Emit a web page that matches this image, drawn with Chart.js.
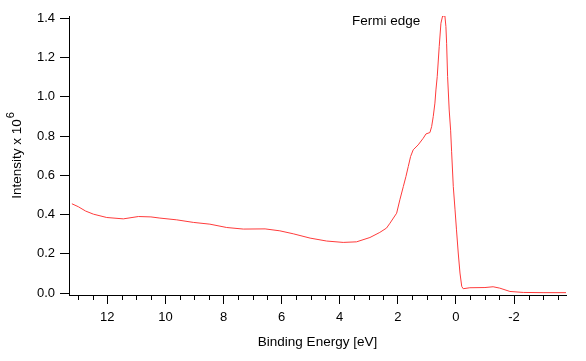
<!DOCTYPE html>
<html>
<head>
<meta charset="utf-8">
<script src="https://cdn.jsdelivr.net/npm/chart.js@4/dist/chart.umd.min.js"></script>
<style>
  html, body { margin: 0; padding: 0; background: #fff; }
  #wrap { width: 586px; height: 361px; position: relative; }
</style>
</head>
<body>
<div id="wrap"><canvas id="c" width="586" height="361"></canvas></div>
<script>
// Binding energy (eV) and intensity (x 10^6)
const energy = [13.22, 13.0, 12.75, 12.48, 12.02, 11.45, 10.93, 10.5, 10.19, 9.61, 9.04, 8.47, 7.89, 7.32, 6.57, 6.06, 5.6, 5.02, 4.45, 3.88, 3.42, 2.96, 2.62, 2.39, 2.27, 2.04, 1.93, 1.81, 1.72, 1.64, 1.56, 1.47, 1.30, 1.125, 1.03, 0.895, 0.836, 0.781, 0.723, 0.688, 0.643, 0.575, 0.516, 0.458, 0.379, 0.344, 0.32, 0.286, 0.231, 0.182, 0.148, 0.09, 0.03, -0.02, -0.08, -0.14, -0.20, -0.25, -0.48, -1.0, -1.28, -1.51, -1.86, -2.32, -3.0, -3.79];
const intensity = [0.455, 0.44, 0.418, 0.402, 0.385, 0.378, 0.39, 0.388, 0.382, 0.373, 0.36, 0.351, 0.334, 0.326, 0.327, 0.317, 0.302, 0.28, 0.265, 0.258, 0.261, 0.283, 0.309, 0.331, 0.356, 0.407, 0.475, 0.543, 0.594, 0.645, 0.696, 0.73, 0.755, 0.789, 0.811, 0.818, 0.848, 0.899, 0.968, 1.035, 1.103, 1.256, 1.375, 1.412, 1.412, 1.358, 1.273, 1.103, 0.933, 0.83, 0.72, 0.543, 0.424, 0.322, 0.204, 0.102, 0.034, 0.022, 0.027, 0.028, 0.032, 0.025, 0.008, 0.003, 0.002, 0.002];
const xMajorTicks = [12, 10, 8, 6, 4, 2, 0, -2];
const xMinorTicks = [13, 12.5, 11.5, 11, 10.5, 9.5, 9, 8.5, 7.5, 7, 6.5, 5.5, 5, 4.5, 3.5, 3, 2.5, 1.5, 1, 0.5, -0.5, -1, -1.5, -2.5, -3, -3.5];
const yTicks = [0, 0.2, 0.4, 0.6, 0.8, 1.0, 1.2, 1.4];
const annotationText = 'Fermi edge';
const annotationPos = [2.4, 1.385];
const yTitleMain = 'Intensity x 10';
const yTitleSup = '6';

const FONT = "'Liberation Sans', Arial, Helvetica, sans-serif";

const extrasPlugin = {
  id: 'extras',
  afterDraw(chart) {
    const xs = chart.scales.x;
    const ys = chart.scales.y;
    const ctx = chart.ctx;
    ctx.save();
    // minor x ticks
    ctx.strokeStyle = '#000';
    ctx.lineWidth = 1;
    ctx.beginPath();
    xMinorTicks.forEach(v => {
      const px = Math.round(xs.getPixelForValue(v)) + 0.5;
      ctx.moveTo(px, xs.top);
      ctx.lineTo(px, xs.top + 5);
    });
    ctx.stroke();
    // annotation
    ctx.fillStyle = '#000';
    ctx.font = "13.5px " + FONT;
    ctx.textAlign = 'center';
    ctx.textBaseline = 'middle';
    ctx.fillText(annotationText, xs.getPixelForValue(annotationPos[0]), ys.getPixelForValue(annotationPos[1]));
    // y-axis title with superscript
    const mainFont = "13.5px " + FONT;
    const supFont = "11px " + FONT;
    ctx.font = mainFont;
    const wMain = ctx.measureText(yTitleMain).width;
    ctx.font = supFont;
    const wSup = ctx.measureText(yTitleSup).width;
    const total = wMain + wSup + 1;
    const cy = (chart.chartArea.top + chart.chartArea.bottom) / 2;
    ctx.translate(17, cy);
    ctx.rotate(-Math.PI / 2);
    ctx.textAlign = 'left';
    ctx.textBaseline = 'middle';
    ctx.font = mainFont;
    ctx.fillText(yTitleMain, -total / 2, 0);
    ctx.font = supFont;
    ctx.fillText(yTitleSup, -total / 2 + wMain + 1, -6);
    ctx.restore();
  }
};

new Chart(document.getElementById('c'), {
  type: 'line',
  data: {
    datasets: [{
      data: energy.map((e, i) => ({ x: e, y: intensity[i] })),
      borderColor: '#ff3b3b',
      borderWidth: 1,
      pointRadius: 0,
      tension: 0,
      fill: false
    }]
  },
  options: {
    responsive: false,
    animation: false,
    devicePixelRatio: 1,
    layout: { padding: { left: 0, right: 20, top: 16, bottom: 0 } },
    plugins: { legend: { display: false }, tooltip: { enabled: false } },
    scales: {
      x: {
        type: 'linear',
        reverse: true,
        min: -3.79,
        max: 13.32,
        afterBuildTicks(scale) { scale.ticks = xMajorTicks.map(v => ({ value: v })); },
        afterFit(scale) { scale.height = 66; },
        grid: { drawOnChartArea: false, drawTicks: true, tickLength: 9, color: '#000', tickColor: '#000' },
        border: { display: true, color: '#000', width: 1 },
        ticks: { color: '#000', padding: 6, maxRotation: 0, autoSkip: false, font: { family: FONT, size: 13 } },
        title: { display: true, text: 'Binding Energy [eV]', color: '#000', font: { family: FONT, size: 13.5 }, padding: { top: 0, bottom: 11 } }
      },
      y: {
        type: 'linear',
        min: -0.01,
        max: 1.412,
        afterBuildTicks(scale) { scale.ticks = yTicks.map(v => ({ value: v })); },
        afterFit(scale) { scale.width = 69; },
        grid: { drawOnChartArea: false, drawTicks: true, tickLength: 9, color: '#000', tickColor: '#000' },
        border: { display: true, color: '#000', width: 1 },
        ticks: { color: '#000', padding: 5, font: { family: FONT, size: 13 }, callback: v => Number(v).toFixed(1) },
        title: { display: false }
      }
    }
  },
  plugins: [extrasPlugin]
});
</script>
</body>
</html>
